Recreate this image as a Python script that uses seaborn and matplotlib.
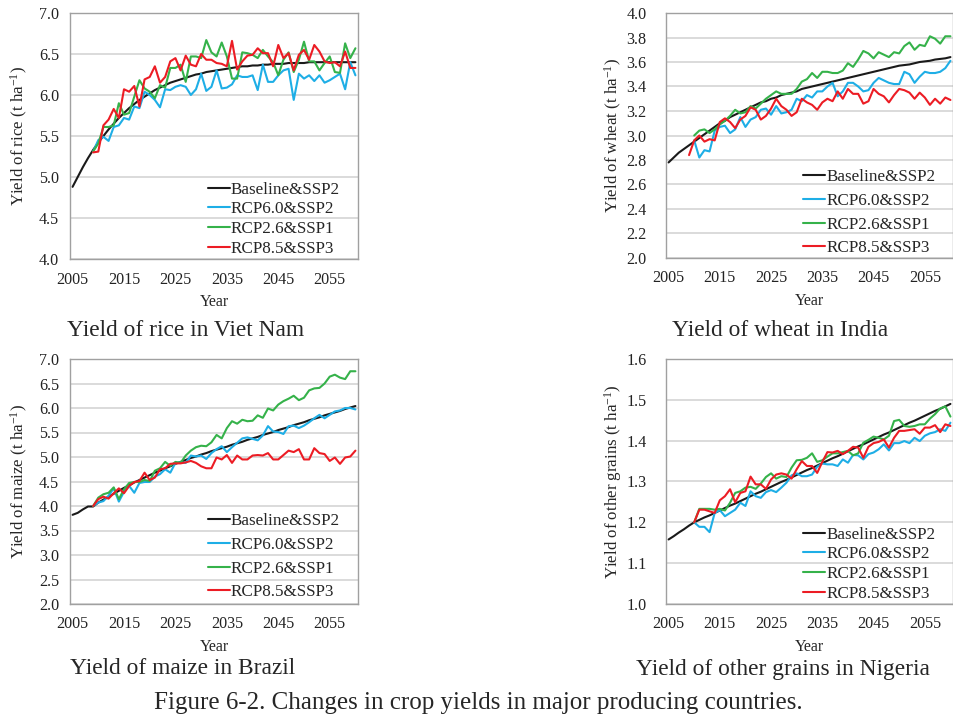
import pandas as pd
import matplotlib.pyplot as plt
import seaborn as sns

# series names and colours
scenarios = ["Baseline&SSP2", "RCP6.0&SSP2", "RCP2.6&SSP1", "RCP8.5&SSP3"]
colors = {"Baseline&SSP2": "#1a1a1a", "RCP6.0&SSP2": "#1eaee6",
          "RCP2.6&SSP1": "#35b24a", "RCP8.5&SSP3": "#ec1c24"}

# ---- rice, Viet Nam (baseline 2005-2060, scenarios from 2009)
rice_base = [4.88, 5.00, 5.12, 5.23, 5.33, 5.42, 5.50, 5.58, 5.65, 5.72,
             5.78, 5.84, 5.89, 5.94, 5.98, 6.02, 6.06, 6.09, 6.12, 6.15,
             6.17, 6.19, 6.21, 6.23, 6.25, 6.26, 6.28, 6.29, 6.30, 6.31,
             6.32, 6.33, 6.34, 6.35, 6.35, 6.36, 6.36, 6.37, 6.37, 6.38,
             6.38, 6.38, 6.39, 6.39, 6.39, 6.39, 6.40, 6.40, 6.40, 6.40,
             6.40, 6.40, 6.40, 6.40, 6.40, 6.40]
rice_rcp60 = [5.31, 5.45, 5.49, 5.44, 5.61, 5.63, 5.72, 5.70, 5.86, 5.84,
              6.04, 6.00, 5.94, 5.85, 6.07, 6.06, 6.10, 6.12, 6.10, 6.00,
              6.07, 6.26, 6.05, 6.10, 6.30, 6.08, 6.09, 6.13, 6.24, 6.22,
              6.22, 6.24, 6.06, 6.37, 6.16, 6.16, 6.24, 6.30, 6.32, 5.94,
              6.26, 6.20, 6.24, 6.17, 6.24, 6.15, 6.18, 6.22, 6.26, 6.07,
              6.40, 6.24]
rice_rcp26 = [5.31, 5.41, 5.61, 5.61, 5.63, 5.90, 5.76, 5.78, 5.98, 6.18,
              6.08, 6.04, 5.96, 6.12, 6.09, 6.33, 6.33, 6.37, 6.16, 6.47,
              6.47, 6.45, 6.67, 6.52, 6.47, 6.64, 6.47, 6.20, 6.20, 6.52,
              6.51, 6.49, 6.45, 6.55, 6.47, 6.40, 6.24, 6.43, 6.52, 6.28,
              6.43, 6.65, 6.41, 6.41, 6.30, 6.39, 6.47, 6.28, 6.27, 6.63,
              6.45, 6.57]
rice_rcp85 = [5.30, 5.31, 5.63, 5.70, 5.83, 5.72, 6.07, 6.04, 6.11, 5.86,
              6.19, 6.22, 6.35, 6.15, 6.22, 6.41, 6.45, 6.30, 6.48, 6.37,
              6.35, 6.50, 6.43, 6.43, 6.39, 6.38, 6.35, 6.66, 6.31, 6.41,
              6.48, 6.49, 6.57, 6.51, 6.51, 6.35, 6.61, 6.45, 6.51, 6.30,
              6.49, 6.55, 6.43, 6.61, 6.53, 6.41, 6.39, 6.40, 6.35, 6.53,
              6.33, 6.33]

# ---- wheat, India
wheat_base = [2.78, 2.82, 2.86, 2.89, 2.92, 2.95, 2.98, 3.01, 3.04, 3.07,
              3.10, 3.12, 3.15, 3.17, 3.19, 3.21, 3.23, 3.25, 3.27, 3.28,
              3.30, 3.31, 3.33, 3.34, 3.35, 3.36, 3.38, 3.39, 3.40, 3.41,
              3.42, 3.43, 3.44, 3.45, 3.46, 3.47, 3.48, 3.49, 3.50, 3.51,
              3.52, 3.53, 3.54, 3.55, 3.56, 3.57, 3.575, 3.58, 3.59, 3.60,
              3.605, 3.61, 3.62, 3.625, 3.63, 3.64]
wheat_rcp60 = [2.96, 2.82, 2.88, 2.87, 3.04, 3.07, 3.08, 3.02, 3.05, 3.15,
               3.07, 3.13, 3.15, 3.21, 3.22, 3.17, 3.24, 3.18, 3.19, 3.21,
               3.30, 3.28, 3.33, 3.31, 3.36, 3.36, 3.40, 3.43, 3.32, 3.36,
               3.43, 3.43, 3.40, 3.36, 3.37, 3.43, 3.47, 3.45, 3.43, 3.42,
               3.42, 3.52, 3.50, 3.43, 3.48, 3.52, 3.51, 3.51, 3.52, 3.55,
               3.61]
wheat_rcp26 = [3.00, 3.04, 3.05, 3.02, 3.05, 3.09, 3.12, 3.16, 3.21, 3.18,
               3.19, 3.24, 3.22, 3.26, 3.30, 3.33, 3.36, 3.34, 3.34, 3.34,
               3.38, 3.44, 3.46, 3.51, 3.47, 3.52, 3.52, 3.51, 3.51, 3.53,
               3.59, 3.56, 3.62, 3.69, 3.67, 3.63, 3.68, 3.66, 3.64, 3.68,
               3.67, 3.73, 3.76, 3.70, 3.74, 3.73, 3.81, 3.79, 3.75, 3.81,
               3.81]
wheat_rcp85 = [2.84, 2.96, 3.00, 2.95, 2.97, 2.96, 3.11, 3.14, 3.11, 3.06,
               3.13, 3.16, 3.23, 3.21, 3.13, 3.16, 3.22, 3.30, 3.24, 3.21,
               3.16, 3.19, 3.30, 3.27, 3.25, 3.21, 3.27, 3.30, 3.28, 3.36,
               3.30, 3.38, 3.34, 3.34, 3.26, 3.28, 3.38, 3.34, 3.32, 3.27,
               3.33, 3.38, 3.37, 3.35, 3.30, 3.35, 3.31, 3.25, 3.30, 3.26,
               3.31, 3.29]

# ---- maize, Brazil
maize_base = [3.82, 3.86, 3.93, 3.99, 3.99, 4.07, 4.13, 4.19, 4.25, 4.31,
              4.37, 4.42, 4.48, 4.53, 4.58, 4.63, 4.68, 4.72, 4.77, 4.81,
              4.86, 4.90, 4.94, 4.98, 5.01, 5.05, 5.08, 5.12, 5.15, 5.18,
              5.21, 5.25, 5.28, 5.31, 5.35, 5.38, 5.41, 5.45, 5.48, 5.51,
              5.55, 5.58, 5.61, 5.65, 5.68, 5.71, 5.75, 5.78, 5.81, 5.85,
              5.88, 5.91, 5.94, 5.98, 6.01, 6.04]
maize_rcp60 = [4.00, 4.07, 4.10, 4.21, 4.36, 4.09, 4.29, 4.41, 4.27, 4.47,
               4.49, 4.49, 4.60, 4.65, 4.75, 4.68, 4.88, 4.89, 4.88, 5.03,
               5.01, 5.03, 4.96, 5.08, 5.16, 5.22, 5.10, 5.20, 5.29, 5.38,
               5.40, 5.37, 5.34, 5.44, 5.63, 5.52, 5.51, 5.47, 5.63, 5.64,
               5.59, 5.64, 5.71, 5.79, 5.86, 5.79, 5.86, 5.93, 5.95, 6.00,
               6.00, 5.97]
maize_rcp26 = [4.00, 4.17, 4.24, 4.27, 4.38, 4.14, 4.34, 4.47, 4.49, 4.49,
               4.53, 4.51, 4.72, 4.77, 4.90, 4.82, 4.90, 4.88, 5.03, 5.13,
               5.20, 5.23, 5.22, 5.30, 5.45, 5.38, 5.59, 5.73, 5.68, 5.76,
               5.73, 5.74, 5.85, 5.80, 5.99, 5.95, 6.07, 6.14, 6.19, 6.25,
               6.16, 6.21, 6.36, 6.40, 6.41, 6.50, 6.64, 6.68, 6.62, 6.59,
               6.75, 6.75]
maize_rcp85 = [4.00, 4.14, 4.19, 4.15, 4.26, 4.36, 4.26, 4.41, 4.49, 4.51,
               4.68, 4.53, 4.58, 4.75, 4.77, 4.86, 4.87, 4.87, 4.89, 4.92,
               4.88, 4.81, 4.77, 4.77, 4.99, 4.95, 5.04, 4.88, 5.03, 4.95,
               4.95, 5.03, 5.04, 5.03, 5.08, 4.95, 4.95, 5.04, 5.13, 5.10,
               5.16, 4.95, 4.95, 5.18, 5.08, 5.06, 4.92, 4.99, 4.86, 4.99,
               5.01, 5.13]

# ---- other grains, Nigeria
other_base = [1.158, 1.166, 1.175, 1.183, 1.192, 1.200, 1.206, 1.212, 1.217, 1.223,
              1.229, 1.235, 1.241, 1.246, 1.252, 1.258, 1.264, 1.270, 1.275, 1.281,
              1.287, 1.293, 1.299, 1.304, 1.310, 1.316, 1.322, 1.328, 1.333, 1.339,
              1.345, 1.351, 1.357, 1.362, 1.368, 1.374, 1.380, 1.386, 1.391, 1.397,
              1.403, 1.409, 1.415, 1.420, 1.426, 1.432, 1.438, 1.444, 1.449, 1.455,
              1.461, 1.467, 1.473, 1.478, 1.484, 1.490]
other_rcp60 = [1.200, 1.189, 1.189, 1.176, 1.223, 1.230, 1.215, 1.223, 1.231, 1.248,
               1.240, 1.276, 1.264, 1.260, 1.274, 1.279, 1.274, 1.285, 1.297, 1.315,
               1.320, 1.313, 1.313, 1.317, 1.336, 1.344, 1.342, 1.342, 1.338, 1.354,
               1.346, 1.365, 1.364, 1.354, 1.367, 1.371, 1.379, 1.391, 1.376, 1.394,
               1.394, 1.399, 1.394, 1.407, 1.399, 1.412, 1.418, 1.421, 1.428, 1.424,
               1.444]
other_rcp26 = [1.200, 1.233, 1.233, 1.233, 1.231, 1.233, 1.229, 1.248, 1.272, 1.276,
               1.285, 1.287, 1.282, 1.295, 1.311, 1.320, 1.307, 1.313, 1.311, 1.334,
               1.352, 1.353, 1.358, 1.369, 1.348, 1.352, 1.361, 1.369, 1.369, 1.372,
               1.375, 1.364, 1.369, 1.395, 1.402, 1.410, 1.407, 1.403, 1.412, 1.448,
               1.451, 1.436, 1.434, 1.436, 1.440, 1.440, 1.454, 1.465, 1.479, 1.484,
               1.459]
other_rcp85 = [1.200, 1.231, 1.231, 1.227, 1.223, 1.254, 1.264, 1.281, 1.249, 1.272,
               1.276, 1.312, 1.293, 1.293, 1.282, 1.305, 1.317, 1.320, 1.317, 1.307,
               1.330, 1.350, 1.338, 1.338, 1.321, 1.348, 1.372, 1.371, 1.375, 1.367,
               1.375, 1.385, 1.383, 1.358, 1.385, 1.394, 1.397, 1.403, 1.383, 1.407,
               1.424, 1.424, 1.426, 1.428, 1.417, 1.432, 1.432, 1.438, 1.421, 1.440,
               1.436]

panels = [
    {"series": [rice_base, rice_rcp60, rice_rcp26, rice_rcp85], "start": [2005, 2009, 2009, 2009],
     "ylabel": "Yield of rice (t ha$^{-1}$)", "ylim": (4.0, 7.0), "step": 0.5,
     "rect": [70, 13, 288, 246], "spacing": 0.23, "ypad": 8, "lab_x": -0.138, "leg_y": 0.0},
    {"series": [wheat_base, wheat_rcp60, wheat_rcp26, wheat_rcp85], "start": [2005, 2010, 2010, 2009],
     "ylabel": "Yield of wheat (t ha$^{-1}$)", "ylim": (2.0, 4.0), "step": 0.2,
     "rect": [666, 13, 287, 245], "spacing": 0.45, "ypad": 14, "lab_x": -0.148, "leg_y": 0.0},
    {"series": [maize_base, maize_rcp60, maize_rcp26, maize_rcp85], "start": [2005, 2009, 2009, 2009],
     "ylabel": "Yield of maize (t ha$^{-1}$)", "ylim": (2.0, 7.0), "step": 0.5,
     "rect": [70, 359, 288, 245], "spacing": 0.45, "ypad": 8, "lab_x": -0.138, "leg_y": 0.008},
    {"series": [other_base, other_rcp60, other_rcp26, other_rcp85], "start": [2005, 2010, 2010, 2010],
     "ylabel": "Yield of other grains (t ha$^{-1}$)", "ylim": (1.0, 1.6), "step": 0.1,
     "rect": [666, 359, 287, 245], "spacing": 0.23, "ypad": 14, "lab_x": -0.148, "leg_y": 0.0},
]
xticks = [2005, 2015, 2025, 2035, 2045, 2055]

sns.set_style("white")
plt.rcParams["font.family"] = ["Liberation Serif", "DejaVu Serif"]
plt.rcParams["mathtext.fontset"] = "custom"
plt.rcParams["mathtext.rm"] = "Liberation Serif"
plt.rcParams["mathtext.it"] = "Liberation Serif:italic"

W, H = 954, 722
fig = plt.figure(figsize=(W / 100, H / 100), dpi=100)

for p in panels:
    x0, y0, w, h = p["rect"]
    ax = fig.add_axes([x0 / W, 1 - (y0 + h) / H, w / W, h / H])
    rows = []
    for name, vals, s in zip(scenarios, p["series"], p["start"]):
        for i, v in enumerate(vals):
            rows.append({"Year": s + i, "Yield": v, "Scenario": name})
    df = pd.DataFrame(rows)
    sns.lineplot(data=df, x="Year", y="Yield", hue="Scenario", hue_order=scenarios,
                 palette=colors, linewidth=1.5, ax=ax, errorbar=None)
    lo, hi = p["ylim"]
    n = int(round((hi - lo) / p["step"]))
    yt = [lo + k * p["step"] for k in range(n + 1)]
    ax.set_ylim(lo, hi)
    ax.set_yticks(yt)
    ax.set_yticklabels([f"{v:.1f}" for v in yt])
    ax.set_xlim(2004.5, 2060.5)
    ax.set_xticks(xticks)
    ax.grid(axis="y", color="#d4d4d4", linewidth=1.2)
    ax.set_axisbelow(True)
    for sp in ax.spines.values():
        sp.set_color("#a0a0a0")
        sp.set_linewidth(1.0)
    ax.tick_params(length=0, labelsize=11.6, colors="#222222")
    ax.tick_params(axis="x", pad=9)
    ax.tick_params(axis="y", pad=p["ypad"])
    ax.set_xlabel("Year", fontsize=11.5, labelpad=5)
    ax.set_ylabel(p["ylabel"], fontsize=12.2)
    ax.yaxis.set_label_coords(p["lab_x"], 0.5)
    handles, labels = ax.get_legend_handles_labels()
    ax.legend(handles, labels, loc="lower left", bbox_to_anchor=(0.472, p["leg_y"]),
              frameon=False, fontsize=12.3, handlelength=1.3, handletextpad=0.05,
              borderpad=0.1, borderaxespad=0.0, labelspacing=p["spacing"])

fig.text(186 / W, 1 - 331 / H, "Yield of rice in Viet Nam", ha="center", va="center", fontsize=16.8)
fig.text(780 / W, 1 - 331 / H, "Yield of wheat in India", ha="center", va="center", fontsize=16.8)
fig.text(183 / W, 1 - 669 / H, "Yield of maize in Brazil", ha="center", va="center", fontsize=16.8)
fig.text(783 / W, 1 - 669 / H, "Yield of other grains in Nigeria", ha="center", va="center", fontsize=16.8)
fig.text(478 / W, 1 - 703 / H, "Figure 6-2. Changes in crop yields in major producing countries.",
         ha="center", va="center", fontsize=18)

fig.savefig("out.png", dpi=100, facecolor="white")
